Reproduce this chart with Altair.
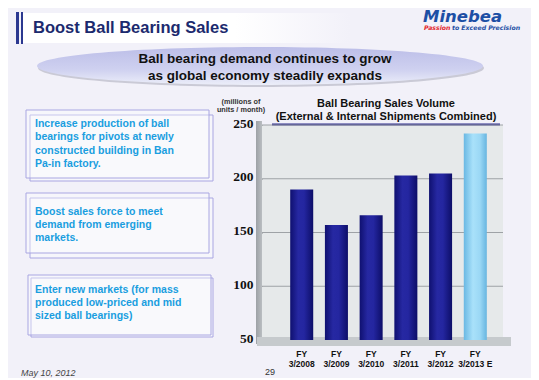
import altair as alt
import pandas as pd

# ---- data ----
categories = ["FY 3/2008", "FY 3/2009", "FY 3/2010", "FY 3/2011", "FY 3/2012", "FY 3/2013 E"]
volumes = [190, 157, 166, 203, 205, 242]
estimate = [False, False, False, False, False, True]
y_ticks = [50, 100, 150, 200, 250]

df = pd.DataFrame({"period": categories, "volume": volumes, "estimate": estimate})
grid_df = pd.DataFrame({"volume": y_ticks})

title_text = "Boost Ball Bearing Sales"
headline = ["Ball bearing demand continues to grow", "as global economy steadily expands"]
box1 = ["Increase production of ball", "bearings for pivots at newly", "constructed building in Ban", "Pa-in factory."]
box2 = ["Boost sales force to meet", "demand from emerging", "markets."]
box3 = ["Enter new markets (for mass", "produced low-priced and mid", "sized ball bearings)"]
chart_title = ["Ball Bearing Sales Volume", "(External & Internal Shipments Combined)"]
unit_label = ["(millions of", "units / month)"]

# ---- layout (page pixel coords) ----
PX0, PY0 = 262, 125          # plot area origin on page
PW, PH = 241, 215
TOTAL_W, TOTAL_H = 523, 370
OX, OY = PX0, PY0
BG = "#f2f1f9"
SANS = "Liberation Sans"

dummy = alt.Data(values=[{"k": 0}])


def T(s, x, y, size, color, weight="bold", style="normal", align="left", font=SANS):
    return alt.Chart(dummy).mark_text(
        text=s, fontSize=size, color=color, fontWeight=weight, fontStyle=style,
        align=align, baseline="middle", font=font
    ).encode(x=alt.value(x - OX), y=alt.value(y - OY))


def lines(arr, x, y0, dy, size, color, **kw):
    return [T(s, x, y0 + i * dy, size, color, **kw) for i, s in enumerate(arr)]


def R(x1, y1, x2, y2, **kw):
    return alt.Chart(dummy).mark_rect(**kw).encode(
        x=alt.value(x1 - OX), x2=alt.value(x2 - OX),
        y=alt.value(y1 - OY), y2=alt.value(y2 - OY))


def G(stops, horizontal=True):
    st = [alt.GradientStop(offset=o, color=c) for o, c in stops]
    if horizontal:
        return alt.Gradient(gradient="linear", stops=st, x1=0, x2=1, y1=0, y2=0)
    return alt.Gradient(gradient="linear", stops=st, x1=0, x2=0, y1=0, y2=1)


layers = []

# title bar
layers.append(R(22, 13, 350, 43, fill=G([(0, "#ffffff"), (0.65, "#ffffff"), (1, BG)])))
layers.append(R(16, 12, 19, 44, fill="#2b3890"))
layers.append(R(21, 12, 23, 44, fill="#2b3890"))
layers.append(T(title_text, 33, 28, 16.5, "#1c2a6e"))

# logo
layers.append(T("Minebea", 423, 16.5, 16.5, "#1d4fa5", style="italic", font="DejaVu Sans"))
layers.append(T("Passion", 424, 28, 6.2, "#e3262c", style="italic", font="DejaVu Sans"))
layers.append(T("to Exceed Precision", 452, 28, 6.2, "#1d4fa5", style="italic", font="DejaVu Sans"))

# ellipse headline
ell = "M -1 0 A 1 0.085 0 1 1 1 0 A 1 0.085 0 1 1 -1 0 Z"
layers.append(alt.Chart(dummy).mark_point(
    shape=ell, size=446 * 446, filled=True, fill="#b9b9c8", opacity=0.7, strokeWidth=0
).encode(x=alt.value(261 - OX), y=alt.value(68 - OY)))
layers.append(alt.Chart(dummy).mark_point(
    shape=ell, size=446 * 446, filled=True, opacity=1, strokeWidth=0,
    fill=G([(0, "#bcbee8"), (0.6, "#cfd1f0"), (1, "#eceef9")], horizontal=False)
).encode(x=alt.value(260 - OX), y=alt.value(66 - OY)))
layers += lines(headline, 265, 58.5, 17, 13.5, "#111111", align="center")

# text boxes
BOXC = "#a9a6e2"
for (a, b), txt, y0 in [
    (((26, 110, 209, 178), (30, 115, 213, 181)), box1, 124),
    (((26, 193, 209, 253), (30, 198, 213, 258)), box2, 211.5),
    (((28, 275, 211, 335), (31, 278, 213, 337)), box3, 289.5),
]:
    layers.append(R(*b, fill="#ffffff", fillOpacity=0.35, stroke=BOXC, strokeWidth=1))
    layers.append(R(*a, fill="#ffffff", fillOpacity=0.35, stroke=BOXC, strokeWidth=1))
    layers += lines(txt, 35, y0, 13.4, 10.5, "#1a9ee0")

# footer
layers.append(T("May 10, 2012", 21, 372.5, 9, "#444444", weight="normal", style="italic"))
layers.append(T("29", 265, 372, 9, "#333333", weight="normal"))

# chart titles
layers += lines(chart_title, 386, 104, 12.8, 11, "#111111", align="center")
layers.append(alt.Chart(dummy).mark_rule(color="#2a2a8c", strokeWidth=2).encode(
    x=alt.value(272 - OX), x2=alt.value(500 - OX), y=alt.value(124.5 - OY)))
layers += lines(unit_label, 241, 101.5, 8.6, 7.3, "#333333", align="center")

# scales / axes
y_scale = alt.Scale(domain=[50, 250], zero=False, nice=False)
y_enc = alt.Y("volume:Q", title=None, scale=y_scale,
              axis=alt.Axis(values=y_ticks, grid=False, domain=False,
                            tickColor="#8a8e92", tickSize=6, labelPadding=3,
                            labelFont="Liberation Serif", labelFontWeight="bold",
                            labelFontSize=13.5, labelColor="#111111", labelOffset=-2))
x_enc = alt.X("period:N", sort=None, title=None,
              scale=alt.Scale(domain=categories, range=[28.2, 224.8], paddingInner=0.337, paddingOuter=0),
              axis=alt.Axis(domain=False, ticks=False, labelAngle=0, labelPadding=9,
                            labelExpr="[substring(datum.label, 0, 2), substring(datum.label, 3)]",
                            labelFont=SANS, labelFontWeight="bold", labelFontSize=8.5,
                            labelColor="#111111", labelLineHeight=10.5))

# gridlines across the back wall
layers.append(alt.Chart(grid_df).mark_rule(color="#9ea2a6", strokeWidth=1).encode(
    y=y_enc, x=alt.value(0), x2=alt.value(PW)))

# 3D-ish walls
layers.append(R(256, 121, 262, 344, fill=G([(0, "#9da1a6"), (1, "#b9bdc1")])))
layers.append(R(257, 337, 511, 346, fill="#c6cacd"))

# bars
navy = G([(0, "#0f1070"), (0.35, "#2628a2"), (0.6, "#2426a0"), (1, "#0d0e68")])
light = G([(0, "#6ab8e3"), (0.4, "#a9e1fa"), (0.7, "#9bd8f5"), (1, "#67b5e0")])

base = alt.Chart(df)
layers.append(base.transform_filter("!datum.estimate").mark_bar(fill=navy).encode(
    x=x_enc, y=y_enc, y2=alt.datum(50)))
layers.append(base.transform_filter("datum.estimate").mark_bar(fill=light).encode(
    x=x_enc, y=y_enc, y2=alt.datum(50)))

chart = alt.layer(*layers).properties(
    width=PW, height=PH,
    autosize=alt.AutoSizeParams(type="none"),
    padding={"left": PX0 - 8, "top": PY0 - 8,
             "right": TOTAL_W - (PX0 - 8) - PW, "bottom": TOTAL_H - (PY0 - 8) - PH},
    background=BG,
).configure_view(fill="#e6e9ea", stroke=None)

chart.save("out.html", embed_options={"renderer": "svg", "actions": False})
